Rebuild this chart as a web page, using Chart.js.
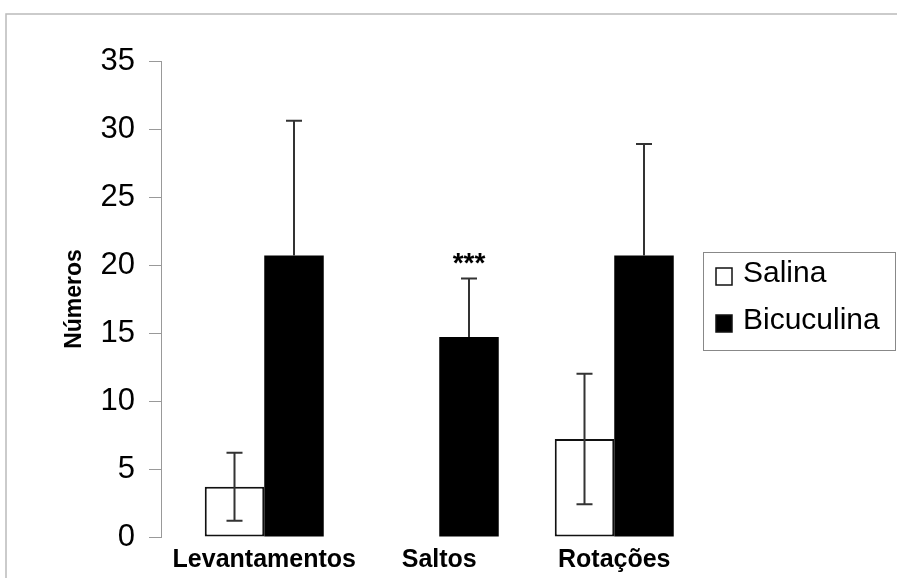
<!DOCTYPE html>
<html>
<head>
<meta charset="utf-8">
<script src="https://cdn.jsdelivr.net/npm/chart.js@4.4.1/dist/chart.umd.min.js"></script>
<style>
  html, body { margin: 0; padding: 0; background: #fff; }
  #wrap { width: 897px; height: 578px; }
</style>
</head>
<body>
<div id="wrap"><canvas id="chart" width="897" height="578"></canvas></div>
<script>
// values
const categories = ['Levantamentos', 'Saltos', 'Rotações'];
const salina = [3.7, null, 7.2];
const salinaErr = [2.5, null, 4.8];
const bicuculina = [20.7, 14.7, 20.7];
const bicuculinaErr = [9.9, 4.3, 8.2];
const significance = ['', '***', ''];
const yTicks = [0, 5, 10, 15, 20, 25, 30, 35];

const FONT = 'Arial, "Liberation Sans", sans-serif';

// error bars: both ways for Salina, upward only for Bicuculina
const errorBars = {
    id: 'errorBars',
    afterDatasetsDraw(chart) {
        const ctx = chart.ctx;
        const y = chart.scales.y;
        const errs = [salinaErr, bicuculinaErr];
        const both = [true, false];
        ctx.save();
        ctx.strokeStyle = '#333';
        ctx.lineWidth = 2;
        chart.data.datasets.forEach((ds, di) => {
            const meta = chart.getDatasetMeta(di);
            meta.data.forEach((bar, i) => {
                const v = ds.data[i].y;
                const e = errs[di][i];
                if (v == null || e == null) return;
                const x = bar.x;
                const top = y.getPixelForValue(v + e);
                const bot = both[di] ? y.getPixelForValue(v - e) : bar.y;
                ctx.beginPath();
                ctx.moveTo(x, bot);
                ctx.lineTo(x, top);
                ctx.moveTo(x - 8, top);
                ctx.lineTo(x + 8, top);
                if (both[di]) {
                    ctx.moveTo(x - 8, bot);
                    ctx.lineTo(x + 8, bot);
                }
                ctx.stroke();
            });
        });
        // significance stars above the Bicuculina bars
        ctx.fillStyle = '#000';
        ctx.font = 'bold 28px ' + FONT;
        ctx.textAlign = 'center';
        ctx.textBaseline = 'alphabetic';
        const meta = chart.getDatasetMeta(1);
        significance.forEach((s, i) => {
            if (!s) return;
            const top = y.getPixelForValue(bicuculina[i] + bicuculinaErr[i]);
            ctx.fillText(s, meta.data[i].x, top - 7);
        });
        ctx.restore();
    }
};

// scan frame + boxed legend on the right
const frameLegend = {
    id: 'frameLegend',
    beforeDraw(chart) {
        const ctx = chart.ctx;
        ctx.save();
        ctx.strokeStyle = '#bbb';
        ctx.lineWidth = 1.5;
        ctx.beginPath();
        ctx.moveTo(6, chart.height);
        ctx.lineTo(6, 14);
        ctx.lineTo(chart.width, 14);
        ctx.stroke();
        ctx.restore();
    },
    afterDraw(chart) {
        const ctx = chart.ctx;
        const left = chart.chartArea.right + 3;
        const top = 252;
        ctx.save();
        ctx.strokeStyle = '#888';
        ctx.lineWidth = 1;
        ctx.strokeRect(left + 0.5, top + 0.5, chart.width - left - 2, 98);
        ctx.font = '30px ' + FONT;
        ctx.textBaseline = 'middle';
        ctx.fillStyle = '#000';
        chart.data.datasets.forEach((ds, i) => {
            const cy = top + 22 + i * 47;
            const bx = left + 13;
            ctx.fillStyle = ds.backgroundColor;
            ctx.fillRect(bx, cy - 6, 16, 17);
            ctx.strokeStyle = '#111';
            ctx.lineWidth = 1.5;
            ctx.strokeRect(bx, cy - 6, 16, 17);
            ctx.fillStyle = '#000';
            ctx.fillText(ds.label, bx + 27, cy);
        });
        ctx.restore();
    }
};

new Chart(document.getElementById('chart').getContext('2d'), {
    type: 'bar',
    data: {
        datasets: [
            {
                label: 'Salina',
                data: categories.map((c, i) => ({x: i, y: salina[i]})),
                backgroundColor: '#fff',
                borderColor: '#111',
                borderWidth: 2,
                borderSkipped: false,
                categoryPercentage: 0.68,
                barPercentage: 1
            },
            {
                label: 'Bicuculina',
                data: categories.map((c, i) => ({x: i, y: bicuculina[i]})),
                backgroundColor: '#000',
                borderColor: '#000',
                borderWidth: 0,
                categoryPercentage: 0.68,
                barPercentage: 1
            }
        ]
    },
    options: {
        responsive: false,
        animation: false,
        devicePixelRatio: 1,
        layout: {padding: {left: 61, top: 61, right: 197, bottom: 0}},
        plugins: {
            tooltip: {enabled: false},
            legend: {display: false}
        },
        scales: {
            x: {
                type: 'linear',
                offset: false,
                min: -0.59,
                max: 2.49,
                afterBuildTicks: (s) => { s.ticks = categories.map((c, i) => ({value: i})); },
                afterFit: (s) => { s.height = 41; },
                grid: {display: false},
                border: {display: false},
                ticks: {
                    autoSkip: false,
                    maxRotation: 0,
                    padding: 0,
                    color: '#000',
                    font: {family: FONT, size: 25, weight: 'bold'},
                    callback: (v) => categories[v] ?? ''
                }
            },
            y: {
                min: 0,
                max: 35,
                afterBuildTicks: (s) => { s.ticks = yTicks.map(v => ({value: v})); },
                afterFit: (s) => { s.width = 100; },
                title: {
                    display: true,
                    text: 'Números',
                    color: '#000',
                    font: {family: FONT, size: 23, weight: 'bold'},
                    padding: 0
                },
                grid: {drawOnChartArea: false, drawTicks: true, tickLength: 12, color: '#999'},
                border: {display: true, color: '#999', width: 1},
                ticks: {
                    padding: 14,
                    color: '#000',
                    font: {family: FONT, size: 31}
                }
            }
        }
    },
    plugins: [errorBars, frameLegend]
});
</script>
</body>
</html>
